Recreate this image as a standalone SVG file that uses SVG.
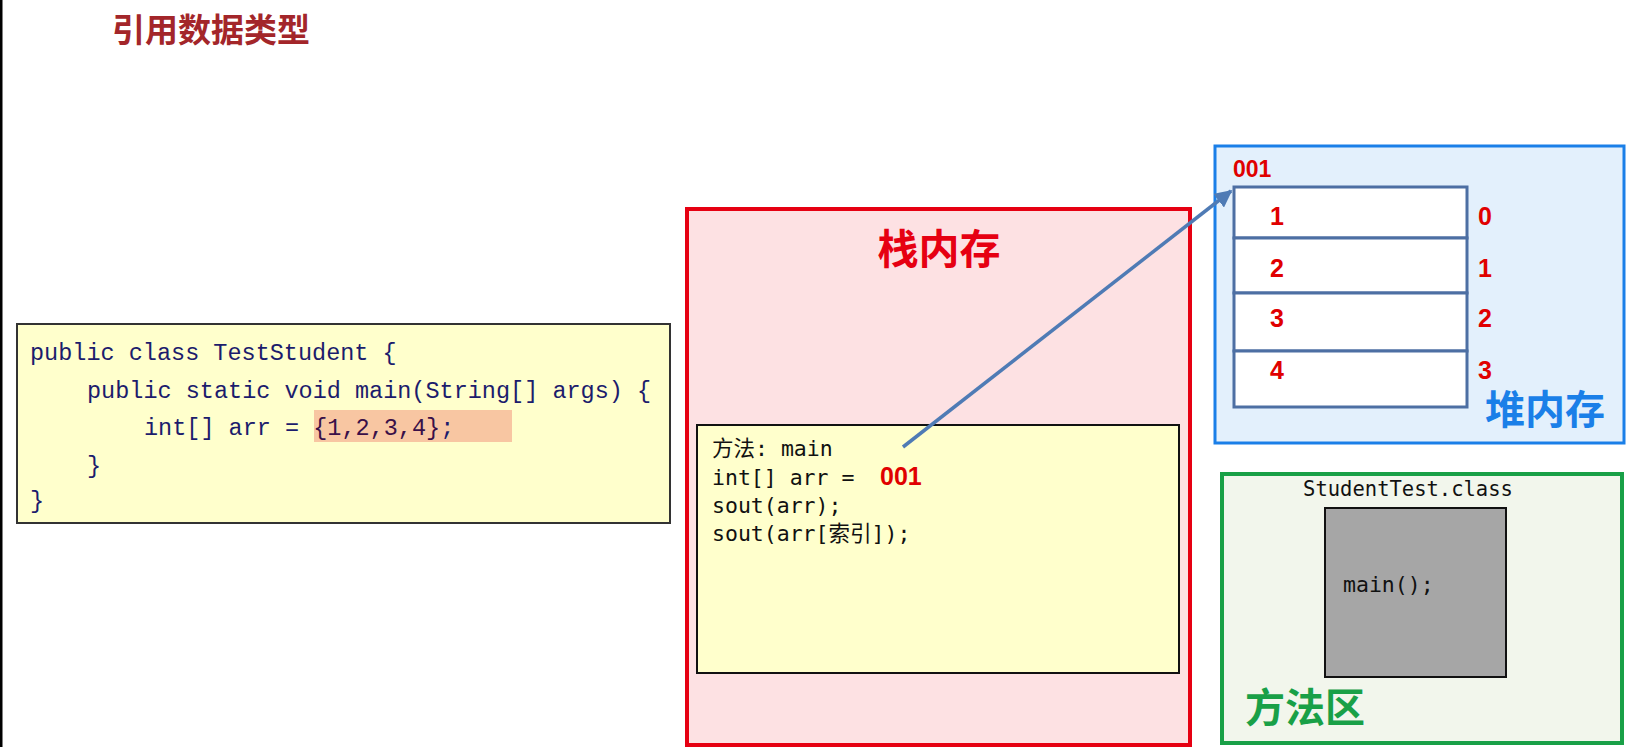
<svg xmlns="http://www.w3.org/2000/svg" width="1626" height="747" viewBox="0 0 1626 747">
<style>
.title{font-family:"Noto Sans CJK SC","Noto Sans",sans-serif;font-weight:bold;}
.code{font-family:"Liberation Mono",monospace;font-size:23.5px;fill:#1c1c6c;}
.mono{font-family:"DejaVu Sans Mono","Noto Sans CJK SC",monospace;font-size:21.5px;fill:#111;}
.num{font-family:"Liberation Sans",Arial,sans-serif;font-weight:bold;fill:#e00000;}
.cell{fill:#ffffff;stroke:#4d6fa3;stroke-width:3;}
</style>
<defs>
<marker id="arr" viewBox="0 0 10 10" refX="9" refY="5" markerWidth="5" markerHeight="5" orient="auto" markerUnits="strokeWidth">
<path d="M0,0 L10,5 L0,10 z" fill="#4f7bb5"/>
</marker>
</defs>
<rect x="0" y="0" width="1626" height="747" fill="#ffffff"/>
<rect x="0" y="0" width="2.5" height="747" fill="#000000"/>
<text x="112" y="42" class="title" font-size="33" fill="#a3262a">引用数据类型</text>

<g id="code">
<rect x="17" y="324" width="653" height="199" fill="#ffffcc" stroke="#333333" stroke-width="2"/>
<rect x="314" y="410" width="198" height="32" fill="#f8c6a2"/>
<text x="30" y="360" class="code">public class TestStudent {</text>
<text x="87" y="398" class="code">public static void main(String[] args) {</text>
<text x="144" y="435" class="code">int[] arr = <tspan fill="#3a1048">{1,2,3,4}</tspan>;</text>
<text x="87" y="473" class="code">}</text>
<text x="30" y="508" class="code">}</text>
</g>

<g id="stack">
<rect x="687" y="209" width="503" height="536" fill="#fde1e3" stroke="#e60012" stroke-width="4"/>
<text x="939" y="264" class="title" font-size="41" fill="#e60012" text-anchor="middle">栈内存</text>
<rect x="697" y="425" width="482" height="248" fill="#ffffcc" stroke="#111111" stroke-width="2"/>
<text x="712" y="456" class="mono">方法: main</text>
<text x="712" y="485" class="mono">int[] arr =</text>
<text x="880" y="485" class="num" font-size="25">001</text>
<text x="712" y="513" class="mono">sout(arr);</text>
<text x="712" y="541" class="mono">sout(arr[索引]);</text>
</g>

<g id="heap">
<rect x="1215" y="146" width="409" height="297" fill="#e3f0fc" stroke="#1a7fe8" stroke-width="3"/>
<text x="1233" y="177" class="num" font-size="23">001</text>
<rect x="1234" y="187" width="233" height="51" class="cell"/>
<rect x="1234" y="238" width="233" height="55" class="cell"/>
<rect x="1234" y="293" width="233" height="58" class="cell"/>
<rect x="1234" y="351" width="233" height="56" class="cell"/>
<g class="num" font-size="25" text-anchor="middle">
<text x="1277" y="225">1</text>
<text x="1277" y="277">2</text>
<text x="1277" y="327">3</text>
<text x="1277" y="379">4</text>
<text x="1485" y="225">0</text>
<text x="1485" y="277">1</text>
<text x="1485" y="327">2</text>
<text x="1485" y="379">3</text>
</g>
<text x="1545" y="424" class="title" font-size="40" fill="#1a7fe8" text-anchor="middle">堆内存</text>
</g>

<g id="method">
<rect x="1222" y="474" width="400" height="269" fill="#f2f6ec" stroke="#19a047" stroke-width="4"/>
<text x="1408" y="496" class="mono" text-anchor="middle" style="font-size:20.5px">StudentTest.class</text>
<rect x="1325" y="508" width="181" height="169" fill="#a6a6a6" stroke="#111111" stroke-width="2"/>
<text x="1343" y="592" class="mono">main();</text>
<text x="1245" y="722" class="title" font-size="40" fill="#19a047">方法区</text>
</g>

<g id="connectors">
<line x1="903" y1="447" x2="1231" y2="191" stroke="#4f7bb5" stroke-width="3.5" marker-end="url(#arr)"/>
</g>
</svg>
